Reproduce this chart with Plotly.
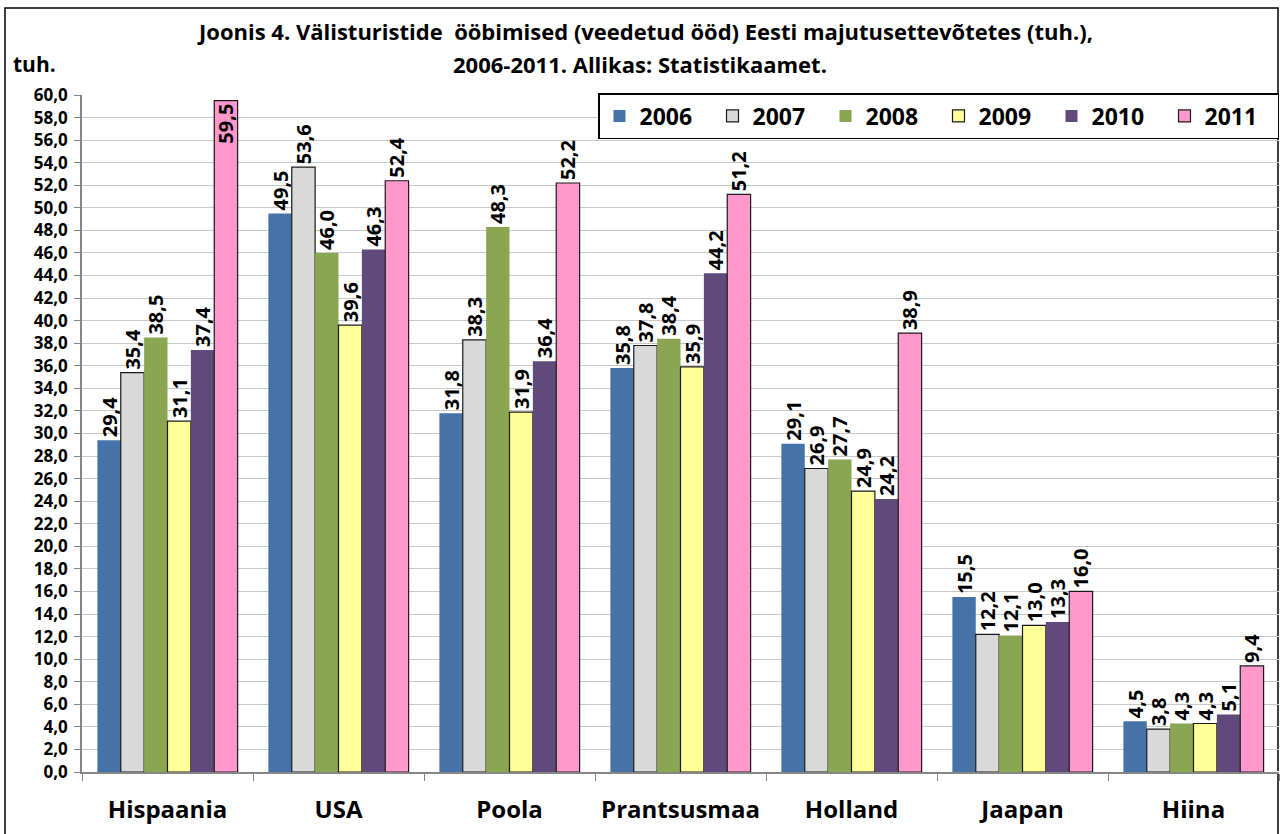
import plotly.graph_objects as go

categories = ["Hispaania", "USA", "Poola", "Prantsusmaa", "Holland", "Jaapan", "Hiina"]
years = ["2006", "2007", "2008", "2009", "2010", "2011"]
v2006 = [29.4, 49.5, 31.8, 35.8, 29.1, 15.5, 4.5]
v2007 = [35.4, 53.6, 38.3, 37.8, 26.9, 12.2, 3.8]
v2008 = [38.5, 46.0, 48.3, 38.4, 27.7, 12.1, 4.3]
v2009 = [31.1, 39.6, 31.9, 35.9, 24.9, 13.0, 4.3]
v2010 = [37.4, 46.3, 36.4, 44.2, 24.2, 13.3, 5.1]
v2011 = [59.5, 52.4, 52.2, 51.2, 38.9, 16.0, 9.4]
series = [v2006, v2007, v2008, v2009, v2010, v2011]

colors = ["#4673A7", "#D9D9D9", "#8BA650", "#FFFF99", "#604A7B", "#FF99CC"]
outline = [None, "#1a1a1a", None, "#1a1a1a", None, "#1a1a1a"]

FONT = "Open Sans"
W, H = 1280, 834
L, R, T, B = 82, 1, 95, 62
pw, ph = W - L - R, H - T - B

def px(x):
    return (x - L) / pw

def py(y):
    return (H - B - y) / ph

fig = go.Figure()
for yr, vals, c, oc in zip(years, series, colors, outline):
    pos = ["inside" if v > 57 else "outside" for v in vals]
    fig.add_trace(go.Bar(
        name=yr, x=categories, y=vals,
        marker=dict(color=c, line=dict(color=oc if oc else c, width=1.2 if oc else 0)),
        text=[f"{v:.1f}".replace(".", ",") for v in vals],
        textposition=pos, textangle=-90, insidetextanchor="end",
        constraintext="none", cliponaxis=False,
        textfont=dict(family=FONT, size=20, color="black", weight="bold"),
    ))

fig.update_layout(
    width=W, height=H,
    margin=dict(l=L, r=R, t=T, b=B, autoexpand=False),
    paper_bgcolor="white", plot_bgcolor="white",
    barmode="group", bargap=0.18, bargroupgap=0,
    separators=", ",
    font=dict(family=FONT, color="black"),
    showlegend=True,
    legend=dict(
        orientation="h", x=px(598), y=py(93), xanchor="left", yanchor="top",
        bordercolor="black", borderwidth=1.5, bgcolor="white",
        font=dict(family=FONT, size=23, weight="bold"),
        entrywidth=68, entrywidthmode="pixels",
    ),
    xaxis=dict(
        showline=True, linecolor="#868686", linewidth=1.5,
        ticks="outside", tickson="boundaries", ticklen=7, tickcolor="#868686",
        tickfont=dict(family=FONT, size=24, weight="bold"),
        tickangle=0, automargin=False,
        ticklabelstandoff=15,
    ),
    yaxis=dict(
        range=[0, 60], dtick=2, tickformat=".1f",
        showline=True, linecolor="#868686", linewidth=1.5,
        ticks="outside", ticklen=6, tickcolor="#868686",
        gridcolor="#C8C8C8", gridwidth=1.2,
        tickfont=dict(family=FONT, size=17, weight="bold"),
        ticklabelstandoff=3, automargin=False,
    ),
    shapes=[dict(type="rect", xref="paper", yref="paper",
                 x0=px(5), x1=px(1278), y0=py(900), y1=py(8),
                 line=dict(color="black", width=1.5), layer="below")],
    annotations=[
        dict(text="Joonis 4. Välisturistide  ööbimised (veedetud ööd) Eesti majutusettevõtetes (tuh.),",
             xref="paper", yref="paper", x=px(645), y=py(31), xanchor="center", yanchor="middle",
             showarrow=False, font=dict(family=FONT, size=22, weight="bold")),
        dict(text="2006-2011. Allikas: Statistikaamet.",
             xref="paper", yref="paper", x=px(640), y=py(64), xanchor="center", yanchor="middle",
             showarrow=False, font=dict(family=FONT, size=22, weight="bold")),
        dict(text="tuh.", xref="paper", yref="paper", x=px(11), y=py(64),
             xanchor="left", yanchor="middle", showarrow=False,
             font=dict(family=FONT, size=21, weight="bold")),
    ],
)

fig.write_html("out.html", config={"displayModeBar": False},
               post_script="document.body.style.margin='0';")
